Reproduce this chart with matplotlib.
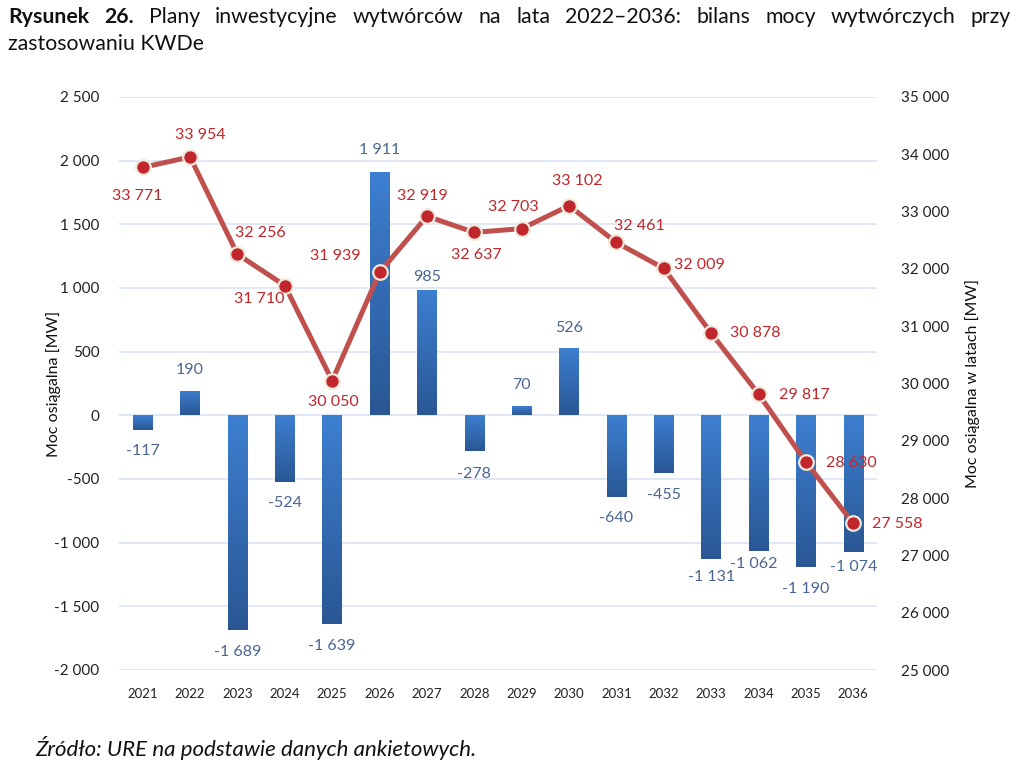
import numpy as np
import matplotlib
matplotlib.use("Agg")
import matplotlib.pyplot as plt
from matplotlib.colors import LinearSegmentedColormap

plt.rcParams['font.family'] = ['Lato', 'DejaVu Sans']

years = ['2021', '2022', '2023', '2024', '2025', '2026', '2027', '2028',
         '2029', '2030', '2031', '2032', '2033', '2034', '2035', '2036']
balance = [-117, 190, -1689, -524, -1639, 1911, 985, -278,
           70, 526, -640, -455, -1131, -1062, -1190, -1074]
capacity = [33771, 33954, 32256, 31710, 30050, 31939, 32919, 32637,
            32703, 33102, 32461, 32009, 30878, 29817, 28630, 27558]
left_ticks = [-2000, -1500, -1000, -500, 0, 500, 1000, 1500, 2000, 2500]
right_ticks = [25000, 26000, 27000, 28000, 29000, 30000, 31000, 32000, 33000, 34000, 35000]

# label placement (pixels): line labels (dx, dy_down, ha), bar labels distance from bar end
line_off = [(-5, 30, 'center'), (10, -21, 'center'), (23, -20, 'center'), (-26, 14, 'center'),
            (1, 22, 'center'), (-44, -15, 'center'), (-5, -19, 'center'), (2, 24, 'center'),
            (-8, -21, 'center'), (8, -24, 'center'), (23, -15, 'center'), (10, -2, 'left'),
            (19, 1, 'left'), (20, 2, 'left'), (20, 2, 'left'), (19, 2, 'left')]
bar_off = [22, 20, 23, 22, 23, 21, 12, 24, 20, 19, 22, 23, 19, 14, 23, 16]
bar_dx = [0, 0, 0, 0, 0, 0, 0, 0, 0, 0, 0, 0, 0, -5, 0, 0]

def fmt(v):
    return f"{v:,}".replace(',', ' ')

W, H = 1024, 764
fig = plt.figure(figsize=(W / 100, H / 100), dpi=100)
ax = fig.add_axes([119 / W, 1 - 670 / H, (877 - 119) / W, (670 - 97) / H])
ax2 = ax.twinx()

x = np.arange(len(years))
bar_color_top = '#3d7fd0'
bar_color_bot = '#2a5794'
bars = ax.bar(x, balance, width=0.41, color=bar_color_bot, zorder=2, linewidth=0)
cmap = LinearSegmentedColormap.from_list('g', [bar_color_top, bar_color_bot])
grad = np.linspace(0, 1, 256).reshape(-1, 1)
for b, v in zip(bars, balance):
    x0 = b.get_x()
    x1 = x0 + b.get_width()
    top = max(v, 0)
    bot = min(v, 0)
    im = ax.imshow(grad, cmap=cmap, aspect='auto', extent=(x0, x1, bot, top),
                   origin='upper', zorder=2.5)
    im.set_clip_path(b)

ax.set_xlim(-0.5, len(years) - 0.5)
ax.set_ylim(-2000, 2500)
ax.set_yticks(left_ticks)
ax.set_yticklabels([fmt(t) for t in left_ticks], fontsize=11, color='#222222')
ax.set_xticks(x)
ax.set_xticklabels(years, fontsize=9.5, color='#222222')
ax.yaxis.grid(True, color='#d6e2f1', linewidth=1.1, zorder=0)
ax.set_axisbelow(True)
for s in ax.spines.values():
    s.set_visible(False)
for s in ax2.spines.values():
    s.set_visible(False)
ax.tick_params(axis='y', length=0, pad=14)
ax.tick_params(axis='x', length=0, pad=13)
ax.set_ylabel('Moc osiągalna [MW]', fontsize=11.5, color='#111111', labelpad=-5)

for xi, v, off, dx in zip(x, balance, bar_off, bar_dx):
    dy = off + 1 if v >= 0 else -off + 1
    ax.annotate(fmt(v), (xi, v), xytext=(dx, dy), textcoords='offset pixels',
                ha='center', va='center', fontsize=11.5, color='#4a6590', zorder=5)

ax2.set_ylim(25000, 35000)
ax2.set_yticks(right_ticks)
ax2.set_yticklabels([fmt(t) for t in right_ticks], fontsize=11, color='#222222')
ax2.tick_params(length=0, pad=17)
ax2.set_ylabel('Moc osiągalna w latach [MW]', fontsize=11.5, color='#111111', labelpad=12)
ax2.plot(x, capacity, color='#c0504d', linewidth=3.6, marker='o', markersize=10.5,
         markerfacecolor='#c0262c', markeredgecolor='#efe9dc', markeredgewidth=1.6,
         zorder=4, solid_capstyle='round')
for xi, v, (dx, dy, ha) in zip(x, capacity, line_off):
    ax2.annotate(fmt(v), (xi, v), xytext=(dx, -dy + 1), textcoords='offset pixels',
                 ha=ha, va='center', fontsize=11.5, color='#c0262c', zorder=6)

# Justified title
fig.canvas.draw()
renderer = fig.canvas.get_renderer()
line1 = [('Rysunek', 'bold'), ('26.', 'bold'), ('Plany', 'normal'), ('inwestycyjne', 'normal'),
         ('wytwórców', 'normal'), ('na', 'normal'), ('lata', 'normal'), ('2022–2036:', 'normal'),
         ('bilans', 'normal'), ('mocy', 'normal'), ('wytwórczych', 'normal'), ('przy', 'normal')]
xl, xr = 8, 1011
y1 = 1 - 17 / H
tsize = 15.3
texts = []
for w, wt in line1:
    t = fig.text(0, y1, w, fontsize=tsize, fontweight=wt, va='center', ha='left', color='#111111')
    texts.append(t)
widths = [t.get_window_extent(renderer).width for t in texts]
gap = max((xr - xl - sum(widths)) / (len(texts) - 1), 3)
cx = xl
for t, wd in zip(texts, widths):
    t.set_x(cx / W)
    cx += wd + gap
fig.text(xl / W, 1 - 44 / H, 'zastosowaniu KWDe', fontsize=tsize, va='center', ha='left',
         color='#111111')

fig.text(35 / W, 1 - 748 / H, 'Źródło: URE na podstawie danych ankietowych.', fontsize=16,
         style='italic', va='center', ha='left', color='#111111')

fig.savefig('out.png', dpi=100)
